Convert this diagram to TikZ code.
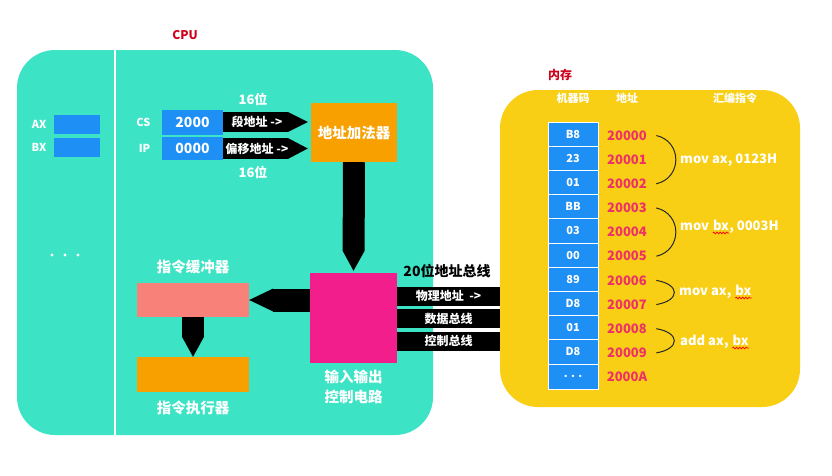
\documentclass[tikz,border=0pt]{standalone}
\usepackage{fontspec}
\setmainfont{Noto Sans CJK SC}
\usetikzlibrary{arrows.meta,positioning,decorations.pathmorphing}
\definecolor{cputeal}{HTML}{3DE3C5}
\definecolor{memyellow}{HTML}{F9CF16}
\definecolor{regblue}{HTML}{1E8FF5}
\definecolor{unitorange}{HTML}{F7A000}
\definecolor{iopink}{HTML}{F21E8C}
\definecolor{bufsalmon}{HTML}{F88179}
\definecolor{titlered}{HTML}{D0021B}
\definecolor{addrred}{HTML}{EE3068}
\tikzset{
  panel/.style={fill=#1, rounded corners=38pt, inner sep=0pt},
  unit/.style={fill=#1, inner sep=0pt, text=white},
  lbl/.style={text=white, font=\bfseries\fontsize{11}{11}\selectfont},
  title/.style={text=titlered, font=\bfseries\fontsize{12}{12}\selectfont},
  fat/.style={line width=#1, -{Triangle[width=#1,length=20pt,line width=0pt]}},
  arrowtxt/.style={text=white, font=\bfseries\fontsize{12}{12}\selectfont},
  bus/.style={line width=19pt},
  cell/.style={fill=regblue, draw=white, line width=.8pt, minimum width=50pt,
    minimum height=24.2pt, inner sep=0pt, text=white, font=\bfseries\fontsize{11}{11}\selectfont},
  addr/.style={text=addrred, font=\bfseries\fontsize{13}{13}\selectfont},
  instr/.style={anchor=base west, inner sep=0pt, text=white, font=\bfseries\fontsize{13}{13}\selectfont},
  brace/.style={line width=1pt, black!85},
  squig/.style={draw=red, line width=.7pt, decorate,
    decoration={snake, amplitude=.9pt, segment length=3.2pt}}
}
\begin{document}
\begin{tikzpicture}[x=1pt,y=-1pt,font=\bfseries]
  \useasboundingbox[fill=white] (0,0) rectangle (832,475);
  % CPU
  \node[panel=cputeal, minimum width=416pt, minimum height=385pt] (cpu) at (225,242.5) {};
  \node[title] at (185,35) {CPU};
  \draw[white, line width=1.2pt] (cpu.north -| 115,0) -- (cpu.south -| 115,0);
  % registers
  \node[unit=regblue, minimum width=46pt, minimum height=19pt] (ax) at (77,124.5) {};
  \node[unit=regblue, minimum width=46pt, minimum height=19pt] (bx) at (77,147.5) {};
  \node[lbl, left=4pt of ax] {AX};
  \node[lbl, left=4pt of bx] {BX};
  \foreach \x in {52,65,78} \fill[white] (\x,255) circle (1.6pt);
  \node[unit=regblue, minimum width=61pt, minimum height=25pt, font=\bfseries\fontsize{14}{14}\selectfont] (cs) at (192.5,122) {2000};
  \node[unit=regblue, minimum width=61pt, minimum height=23pt, font=\bfseries\fontsize{14}{14}\selectfont] (ip) at (192.5,148.5) {0000};
  \node[lbl, left=8pt of cs] {CS};
  \node[lbl, left=8pt of ip] {IP};
  \node[unit=unitorange, minimum width=86pt, minimum height=59pt, font=\bfseries\fontsize{14.5}{14.5}\selectfont] (adder) at (354,132.5) {地址加法器};
  \draw[fat=20pt] (cs.east) -- ([xshift=-3pt]cs.east -| adder.west)
    node[arrowtxt, pos=.4] {段地址 ->};
  \draw[fat=21pt] (ip.east) -- ([xshift=-3pt]ip.east -| adder.west)
    node[arrowtxt, pos=.4] {偏移地址 ->};
  \node[lbl, font=\bfseries\fontsize{13}{13}\selectfont] at (253,99) {16位};
  \node[lbl, font=\bfseries\fontsize{13}{13}\selectfont] at (253,172) {16位};
  % io, buffer, executor
  \node[unit=iopink, minimum width=87pt, minimum height=90pt] (io) at (353.5,318) {};
  \node[lbl, below=3pt of io, align=center, font=\bfseries\fontsize{14.5}{20}\selectfont] {输入输出\\控制电路};
  \node[unit=bufsalmon, minimum width=112pt, minimum height=34pt] (buf) at (193,300) {};
  \node[lbl, above=5pt of buf, font=\bfseries\fontsize{14.5}{14.5}\selectfont] {指令缓冲器};
  \node[unit=unitorange, minimum width=112pt, minimum height=35pt] (exe) at (193,374.5) {};
  \node[lbl, below=5pt of exe, font=\bfseries\fontsize{14.5}{14.5}\selectfont] {指令执行器};
  \draw[fat=22pt] (adder.south) -- ([yshift=2pt]io.north);
  \draw[-{Triangle[width=23pt,length=24pt,line width=0pt]}, line width=23pt] (io.west |- buf.east) -- (buf.east);
  \draw[-{Triangle[width=22pt,length=20pt,line width=0pt]}, line width=22pt] (buf.south) -- (exe.north);
  % memory
  \node[panel=memyellow, minimum width=300pt, minimum height=317pt] (mem) at (650,248.5) {};
  \node[title] at (560,75) {内存};
  \node[lbl] at (573,98) {机器码};
  \node[lbl] at (627,98) {地址};
  \node[lbl] at (735,98) {汇编指令};
  \foreach \v [count=\i from 0] in {B8,23,01,BB,03,00,89,D8,01,D8}
    \node[cell] (c\i) at (573,134+24.2*\i) {\v};
  \node[cell, below=0pt of c9] (c10) {. . .};
  \foreach \a [count=\i from 0] in {20000,20001,20002,20003,20004,20005,20006,20007,20008,20009,2000A}
    \node[addr] (a\i) at (627,135.5+24.15*\i) {\a};
  \draw[brace] ([xshift=6pt]a0.east) .. controls +(26,6) and +(26,-6) .. ([xshift=6pt]a2.east);
  \draw[brace] ([xshift=6pt]a3.east) .. controls +(26,6) and +(26,-6) .. ([xshift=6pt]a5.east);
  \draw[brace] ([xshift=6pt]a6.east) .. controls +(24,4) and +(24,-4) .. ([xshift=6pt]a7.east);
  \draw[brace] ([xshift=6pt]a8.east) .. controls +(24,4) and +(24,-4) .. ([xshift=6pt]a9.east);
  \node[instr] (i1) at (680,163) {mov ax, 0123H};
  \node[instr] (i2) at (680,230) {mov};
  \node[instr] (b2) at ([xshift=3.6pt]i2.base east) {bx};
  \node[instr] at (b2.base east) {, 0003H};
  \node[instr] (i3) at (679,295) {mov ax,};
  \node[instr] (b3) at ([xshift=3.6pt]i3.base east) {bx};
  \node[instr] (i4) at (680,345) {add ax,};
  \node[instr] (b4) at ([xshift=3.6pt]i4.base east) {bx};
  \foreach \b in {b2,b3,b4}
    \path[squig] ([yshift=-3pt]\b.base west) -- ([yshift=-3pt]\b.base east);
  % bus
  \node[font=\bfseries\fontsize{14}{14}\selectfont] at (447,271) {20位地址总线};
  \draw[bus] ([yshift=22pt]io.east) -- ([yshift=22pt]io.east -| mem.west)
    node[arrowtxt, midway] {物理地址 \ ->};
  \draw[bus] ([yshift=-.5pt]io.east) -- ([yshift=-.5pt]io.east -| mem.west)
    node[arrowtxt, midway] {数据总线};
  \draw[bus] ([yshift=-23pt]io.east) -- ([yshift=-23pt]io.east -| mem.west)
    node[arrowtxt, midway] {控制总线};
\end{tikzpicture}
\end{document}
